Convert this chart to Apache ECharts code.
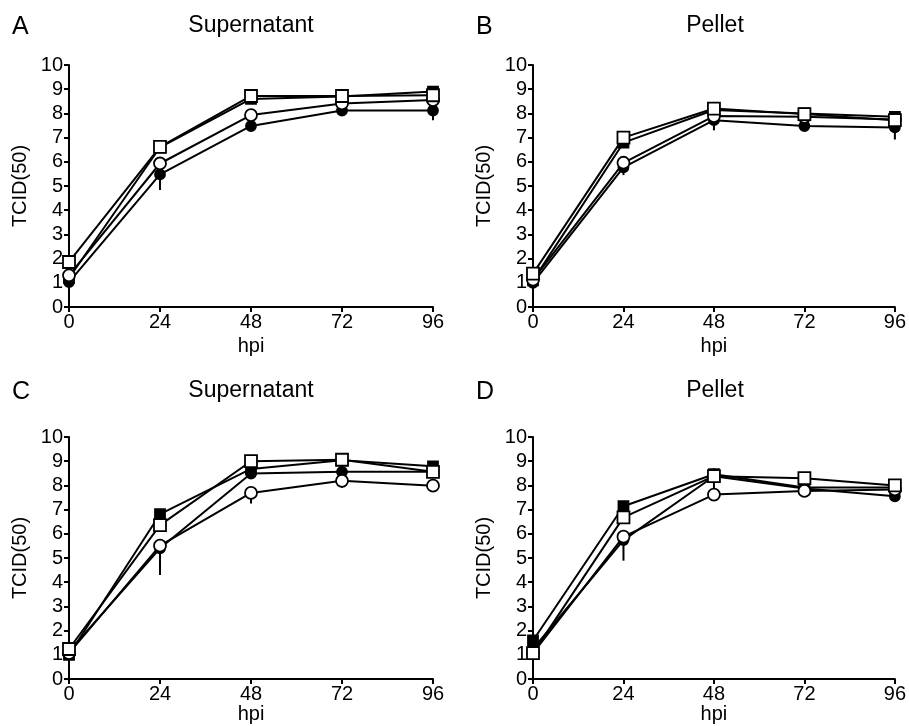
<!DOCTYPE html>
<html>
<head>
<meta charset="utf-8">
<script src="https://cdn.jsdelivr.net/npm/echarts@6/dist/echarts.min.js"></script>
<style>
  html, body { margin: 0; padding: 0; background: #fff; }
  #chart { width: 909px; height: 726px; }
</style>
</head>
<body>
<div id="chart"></div>
<script>
// hours post infection
var hpi = [0, 24, 48, 72, 96];
var yTicks = [0, 1, 2, 3, 4, 5, 6, 7, 8, 9, 10];

// panel A - supernatant
var aFilledCircle = [1.03, 5.48, 7.48, 8.12, 8.12];
var aOpenCircle   = [1.31, 5.93, 7.93, 8.41, 8.55];
var aFilledSquare = [1.2, 6.6, 8.6, 8.7, 8.9];
var aOpenSquare   = [1.86, 6.62, 8.72, 8.72, 8.75];
var aErr = [[24, 4.83, 5.48], [96, 7.72, 8.12], [24, 6.6, 6.9], [48, 8.4, 8.6], [96, 8.9, 9.1]];

// panel B - pellet
var bFilledCircle = [1.0, 5.77, 7.72, 7.48, 7.42];
var bOpenCircle   = [1.13, 5.96, 7.89, 7.86, 7.75];
var bFilledSquare = [1.1, 6.79, 8.14, 8.0, 7.86];
var bOpenSquare   = [1.38, 7.0, 8.2, 7.97, 7.72];
var bErr = [[24, 5.45, 5.77], [48, 7.3, 7.72], [96, 6.92, 7.42], [96, 7.86, 8.07]];

// panel C - supernatant
var cFilledCircle = [1.14, 5.4, 8.49, 8.56, 8.56];
var cOpenCircle   = [1.07, 5.51, 7.69, 8.19, 7.99];
var cFilledSquare = [1.0, 6.81, 8.68, 9.04, 8.79];
var cOpenSquare   = [1.24, 6.36, 9.0, 9.06, 8.56];
var cErr = [[24, 4.3, 5.4], [48, 7.25, 7.69], [72, 7.9, 8.19], [72, 9.06, 9.2]];

// panel D - pellet
var dFilledCircle = [1.24, 5.74, 8.38, 7.87, 7.55];
var dOpenCircle   = [1.07, 5.88, 7.62, 7.77, 7.83];
var dFilledSquare = [1.59, 7.14, 8.46, 7.91, 7.91];
var dOpenSquare   = [1.07, 6.68, 8.38, 8.3, 8.0];
var dErr = [[24, 4.89, 5.88], [48, 7.62, 8.7], [72, 7.77, 8.0]];

var font = '"Liberation Sans", Arial, Helvetica, sans-serif';

var panels = [
  { letter: 'A', title: 'Supernatant', left: 69, top: 65, titleTop: 14, nameGap: 29, fc: aFilledCircle, oc: aOpenCircle, fs: aFilledSquare, os: aOpenSquare, err: aErr },
  { letter: 'B', title: 'Pellet', left: 533, top: 65, titleTop: 14, nameGap: 29, fc: bFilledCircle, oc: bOpenCircle, fs: bFilledSquare, os: bOpenSquare, err: bErr },
  { letter: 'C', title: 'Supernatant', left: 69, top: 437, titleTop: 379, nameGap: 25, fc: cFilledCircle, oc: cOpenCircle, fs: cFilledSquare, os: cOpenSquare, err: cErr },
  { letter: 'D', title: 'Pellet', left: 533, top: 437, titleTop: 379, nameGap: 25, fc: dFilledCircle, oc: dOpenCircle, fs: dFilledSquare, os: dOpenSquare, err: dErr }
];
var gw = 364, gh = 242;

function pairs(vals) {
  return hpi.map(function (h, i) { return [h, vals[i]]; });
}

var option = { animation: false, backgroundColor: '#fff', title: [], grid: [], xAxis: [], yAxis: [], series: [] };

panels.forEach(function (p, k) {
  option.title.push({
    text: p.title, left: p.left + gw / 2, top: p.titleTop, textAlign: 'center', padding: 0,
    textStyle: { fontFamily: font, fontSize: 23, fontWeight: 'normal', color: '#000' }
  });
  option.title.push({
    text: p.letter, left: p.left - 57, top: p.titleTop + 1, padding: 0,
    textStyle: { fontFamily: font, fontSize: 25, fontWeight: 'normal', color: '#000' }
  });
  option.grid.push({ left: p.left, top: p.top, width: gw, height: gh });
  option.xAxis.push({
    type: 'value', gridIndex: k, min: 0, max: 96, interval: 24,
    name: 'hpi', nameLocation: 'middle', nameGap: p.nameGap,
    nameTextStyle: { fontFamily: font, fontSize: 20, color: '#000' },
    axisLine: { lineStyle: { color: '#000', width: 2 } },
    axisTick: { length: 5, lineStyle: { color: '#000', width: 2 } },
    axisLabel: { fontFamily: font, fontSize: 20, color: '#000', margin: 5 },
    splitLine: { show: false }
  });
  option.yAxis.push({
    type: 'value', gridIndex: k, min: 0, max: 10, interval: 1,
    name: 'TCID(50)', nameLocation: 'middle', nameGap: 39, nameRotate: 90,
    nameTextStyle: { fontFamily: font, fontSize: 20, color: '#000' },
    axisLine: { show: true, lineStyle: { color: '#000', width: 2 } },
    axisTick: { show: true, length: 5, lineStyle: { color: '#000', width: 2 } },
    axisLabel: { fontFamily: font, fontSize: 20, color: '#000', margin: 6 },
    splitLine: { show: false }
  });

  // error bars
  option.series.push({
    type: 'custom', xAxisIndex: k, yAxisIndex: k, z: 1,
    data: p.err,
    renderItem: function (params, api) {
      var a = api.coord([api.value(0), api.value(1)]);
      var b = api.coord([api.value(0), api.value(2)]);
      return { type: 'line', shape: { x1: a[0], y1: a[1], x2: b[0], y2: b[1] }, style: { stroke: '#000', lineWidth: 2 } };
    }
  });

  var defs = [
    { d: p.fc, sym: 'circle', size: 10, fill: '#000', z: 2 },
    { d: p.fs, sym: 'rect', size: 10, fill: '#000', z: 2 },
    { d: p.oc, sym: 'circle', size: 12, fill: '#fff', z: 3 },
    { d: p.os, sym: 'rect', size: 12, fill: '#fff', z: 3 }
  ];
  defs.forEach(function (s) {
    option.series.push({
      type: 'line', xAxisIndex: k, yAxisIndex: k, z: s.z,
      data: pairs(s.d),
      symbol: s.sym, symbolSize: s.size, showAllSymbol: true,
      lineStyle: { color: '#000', width: 2 },
      itemStyle: { color: s.fill, borderColor: '#000', borderWidth: 1.8 }
    });
  });
});

var myChart = echarts.init(document.getElementById('chart'));
myChart.setOption(option);
</script>
</body>
</html>
